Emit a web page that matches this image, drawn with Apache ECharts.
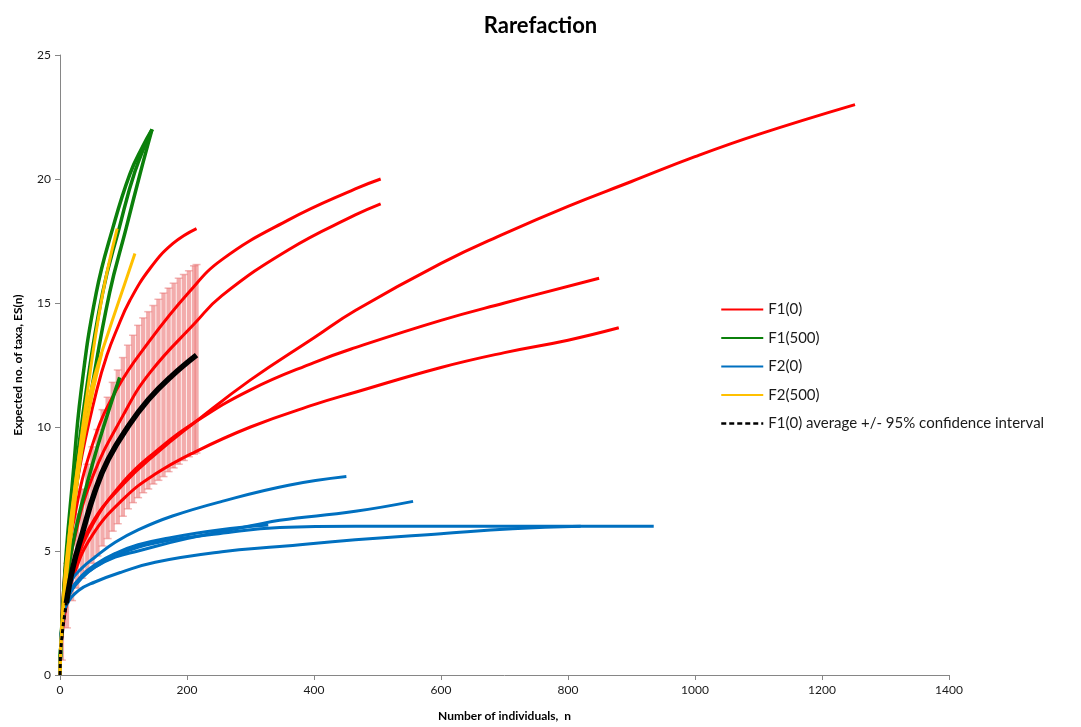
<!DOCTYPE html>
<html>
<head>
<meta charset="utf-8">
<script src="https://cdn.jsdelivr.net/npm/echarts@6/dist/echarts.min.js"></script>
<style>
  html, body { margin: 0; padding: 0; background: #ffffff; }
  #chart { width: 1081px; height: 727px; }
</style>
</head>
<body>
<div id="chart"></div>
<script>
// Rarefaction curves: expected number of taxa ES(n) for n individuals.
// Each curve is a list of [n, ES(n)] pairs.

// F1(0) samples
const f1_0_a = [[0,0],[1,1],[5,2.2],[10,3.0],[20,4.2],[50,6.1],[100,7.7],[150,8.9],[213,10.2],[300,11.9],[400,13.6],[465,14.7],[600,16.6],[700,17.8],[800,18.9],[900,19.9],[1000,20.9],[1100,21.8],[1252,23.0]];
const f1_0_b = [[0,0],[1,1],[5,2.8],[10,4.1],[20,6.0],[50,9.2],[89,11.5],[142,13.5],[202,15.4],[255,16.75],[360,18.35],[465,19.6],[505,20.0]];
const f1_0_c = [[0,0],[1,1],[5,2.6],[10,3.7],[20,5.2],[50,7.9],[100,10.5],[142,12.2],[213,14.2],[255,15.3],[360,17.15],[465,18.55],[505,19.0]];
const f1_0_d = [[0,0],[1,1],[5,3.2],[10,4.8],[20,6.6],[35,8.9],[58,11.5],[74,12.9],[89,13.9],[110,15.1],[142,16.4],[178,17.4],[215,18.0]];
const f1_0_e = [[0,0],[1,1],[5,2.1],[10,2.9],[20,4.1],[50,6.0],[100,7.8],[150,9.0],[213,10.2],[300,11.5],[400,12.6],[465,13.2],[600,14.3],[700,15.0],[849,16.0]];
const f1_0_f = [[0,0],[1,1],[5,2.0],[10,2.8],[20,3.9],[50,5.6],[100,7.1],[150,8.1],[213,9.0],[300,10.0],[400,10.9],[465,11.4],[600,12.4],[700,13.0],[800,13.5],[880,14.0]];

// F1(500) samples
const f1_500_a = [[0,0],[1,1],[5,3.0],[10,5.0],[19,7.6],[33,11.4],[57,15.4],[84,18.1],[110,20.2],[130,21.3],[145,22.0]];
const f1_500_m = [[0,0],[1,1],[5,2.85],[10,4.6],[20,7.1],[41,11.4],[67,15.4],[93,18.0],[118,20.3],[145,22.0]];
const f1_500_b = [[0,0],[1,1],[5,2.7],[10,4.2],[20,6.4],[30,8.4],[49,11.4],[78,15.4],[104,18.0],[126,20.2],[145,22.0]];
const f1_500_c = [[0,0],[1,1],[5,2.5],[10,3.7],[25,5.9],[50,8.4],[71,10.2],[94,12.0]];

// F2(0) samples
const f2_0_a = [[0,0],[1,1],[3,2.0],[8,3.0],[18,3.8],[34,4.3],[55,4.75],[87,5.35],[123,5.85],[176,6.4],[255,7.0],[360,7.65],[451,8.0]];
const f2_0_b = [[0,0],[1,1],[3,2.0],[8,2.9],[18,3.5],[34,3.95],[55,4.35],[87,4.75],[123,5.0],[200,5.5],[307,6.05],[346,6.24],[465,6.6],[556,7.0]];
const f2_0_c = [[0,0],[1,1],[3,1.9],[8,2.8],[18,3.4],[34,3.9],[55,4.35],[87,4.8],[123,5.15],[176,5.45],[250,5.7],[346,5.95],[465,6.0],[700,6.0],[935,6.0]];
const f2_0_d = [[0,0],[1,1],[4,2.1],[10,2.8],[29,3.4],[55,3.75],[97,4.15],[150,4.55],[255,4.97],[346,5.18],[465,5.45],[600,5.7],[713,5.9],[820,6.0]];
const f2_0_e = [[0,0],[1,1],[3,1.9],[8,2.8],[18,3.4],[34,4.0],[55,4.45],[87,4.9],[123,5.25],[176,5.55],[250,5.85],[328,6.05]];

// F2(500) samples
const f2_500_a = [[0,0],[1,1],[5,2.9],[10,4.6],[24,7.6],[42,11.2],[66,15.2],[90,18.0]];
const f2_500_b = [[0,0],[1,1],[5,2.8],[10,4.3],[18,6.5],[39,10.3],[55,12.1],[76,13.8],[97,15.4],[118,17.0]];
const f2_500_c = [[0,0],[1,1],[5,2.6],[10,3.9],[20,6.2],[34,9.0],[50,11.2],[66,13.0]];

// F1(0) average curve
const avgN  = [0, 1, 5, 10, 20, 35, 55, 76, 108, 139, 176, 215];
const avgES = [0, 1, 2.0, 2.9, 4.3, 5.7, 7.4, 8.7, 10.05, 11.1, 12.06, 12.9];
const avgDashedUpTo = 10;   // the dashed stroke covers n <= this value

// 95% confidence interval of the F1(0) average (error bars)
const ciN    = [3, 11, 19, 27, 35, 43, 51, 59, 67, 75, 83, 91, 99, 107, 115, 123, 131, 139, 147, 155, 163, 171, 179, 187, 195, 203, 211, 215];
const ciLow  = [0.6, 1.9, 3.0, 3.5, 3.9, 4.2, 4.5, 4.8, 5.2, 5.5, 5.8, 6.1, 6.4, 6.7, 6.95, 7.15, 7.35, 7.5, 7.7, 7.85, 8.0, 8.2, 8.35, 8.5, 8.65, 8.8, 8.9, 8.95];
const ciHigh = [2.3, 4.5, 5.5, 6.5, 7.5, 8.5, 9.2, 9.9, 10.7, 11.2, 11.8, 12.3, 12.8, 13.3, 13.7, 14.1, 14.4, 14.65, 14.9, 15.15, 15.4, 15.6, 15.8, 16.0, 16.15, 16.3, 16.5, 16.55];

const groups = [
  { name: 'F1(0)',   color: '#ff0000', z: 3, width: 3,   curves: [f1_0_a, f1_0_b, f1_0_c, f1_0_d, f1_0_e, f1_0_f] },
  { name: 'F1(500)', color: '#0b800b', z: 4, width: 3.5, curves: [f1_500_a, f1_500_m, f1_500_b, f1_500_c] },
  { name: 'F2(0)',   color: '#0070c0', z: 5, width: 3,   curves: [f2_0_a, f2_0_b, f2_0_c, f2_0_d, f2_0_e] },
  { name: 'F2(500)', color: '#ffc000', z: 6, width: 3,   curves: [f2_500_a, f2_500_b, f2_500_c] }
];
const avgName = 'F1(0) average +/- 95% confidence interval';

const FONT = 'Lato, "Open Sans", "DejaVu Sans", sans-serif';

const series = [];

// error bars drawn as thin vertical strips with small caps
series.push({
  type: 'custom',
  name: 'ci',
  z: 1,
  silent: true,
  clip: true,
  encode: { x: 0, y: [1, 2] },
  data: ciN.map((n, i) => [n, ciLow[i], ciHigh[i]]),
  renderItem: function (params, api) {
    const top = api.coord([api.value(0), api.value(2)]);
    const bot = api.coord([api.value(0), api.value(1)]);
    const w = 4.3;
    return {
      type: 'group',
      children: [
        { type: 'rect', shape: { x: top[0] - w / 2, y: top[1], width: w, height: bot[1] - top[1] },
          style: { fill: 'rgba(238,132,132,0.68)' } },
        { type: 'line', shape: { x1: top[0] - 4, y1: top[1], x2: top[0] + 4, y2: top[1] },
          style: { stroke: 'rgba(232,110,110,0.5)', lineWidth: 1.5 } },
        { type: 'line', shape: { x1: bot[0] - 4, y1: bot[1], x2: bot[0] + 4, y2: bot[1] },
          style: { stroke: 'rgba(232,110,110,0.5)', lineWidth: 1.5 } }
      ]
    };
  }
});

groups.forEach(g => {
  g.curves.forEach(c => {
    series.push({
      type: 'line',
      name: g.name,
      data: c,
      z: g.z,
      symbol: 'none',
      showSymbol: false,
      smooth: 0.45,
      silent: true,
      lineStyle: { color: g.color, width: g.width },
      itemStyle: { color: g.color }
    });
  });
});

const avgPairs = avgN.map((n, i) => [n, avgES[i]]);
series.push({
  type: 'line',
  name: avgName,
  data: avgPairs.filter(p => p[0] <= avgDashedUpTo),
  z: 8,
  symbol: 'none',
  showSymbol: false,
  silent: true,
  lineStyle: { color: '#000000', width: 3, type: [4, 3] },
  itemStyle: { color: '#000000' }
});
series.push({
  type: 'line',
  name: 'F1(0) average',
  data: avgPairs.filter(p => p[0] >= avgDashedUpTo),
  z: 8,
  symbol: 'none',
  showSymbol: false,
  smooth: 0.45,
  silent: true,
  lineStyle: { color: '#000000', width: 5.5 },
  itemStyle: { color: '#000000' }
});

const axisColor = '#868686';

const option = {
  animation: false,
  backgroundColor: '#ffffff',
  title: {
    text: 'Rarefaction',
    left: 'center',
    top: 10,
    textStyle: { fontFamily: FONT, fontWeight: 'bold', fontSize: 22, color: '#000000' }
  },
  grid: { left: 60, right: 132, top: 55, bottom: 50 },
  legend: {
    orient: 'vertical',
    left: 715,
    top: 297,
    itemWidth: 42,
    itemHeight: 14,
    itemGap: 13.5,
    selectedMode: false,
    itemStyle: { opacity: 0, borderWidth: 0 },
    textStyle: { fontFamily: FONT, fontSize: 15, color: '#1a1a1a' },
    data: [
      { name: 'F1(0)' },
      { name: 'F1(500)' },
      { name: 'F2(0)' },
      { name: 'F2(500)' },
      { name: avgName, lineStyle: { width: 2.5, type: [5, 3] } }
    ]
  },
  xAxis: {
    type: 'value',
    min: 0,
    max: 1400,
    interval: 200,
    name: 'Number of individuals,  n',
    nameLocation: 'middle',
    nameGap: 35,
    nameTextStyle: { fontFamily: FONT, fontWeight: 'bold', fontSize: 12, color: '#000000' },
    axisLine: { show: true, lineStyle: { color: axisColor, width: 1 } },
    axisTick: { show: true, length: 5, lineStyle: { color: axisColor } },
    axisLabel: { fontFamily: FONT, fontSize: 12, color: '#1a1a1a', margin: 9, formatter: v => String(v) },
    splitLine: { show: false }
  },
  yAxis: {
    type: 'value',
    min: 0,
    max: 25,
    interval: 5,
    name: 'Expected no. of taxa, ES(n)',
    nameLocation: 'middle',
    nameGap: 36,
    nameTextStyle: { fontFamily: FONT, fontWeight: 'bold', fontSize: 12, color: '#000000' },
    axisLine: { show: true, lineStyle: { color: axisColor, width: 1 } },
    axisTick: { show: true, length: 5, lineStyle: { color: axisColor } },
    axisLabel: { fontFamily: FONT, fontSize: 12, color: '#1a1a1a', margin: 9, formatter: v => String(v) },
    splitLine: { show: false }
  },
  series: series
};

const chart = echarts.init(document.getElementById('chart'), null, { renderer: 'canvas' });
chart.setOption(option);
</script>
</body>
</html>
